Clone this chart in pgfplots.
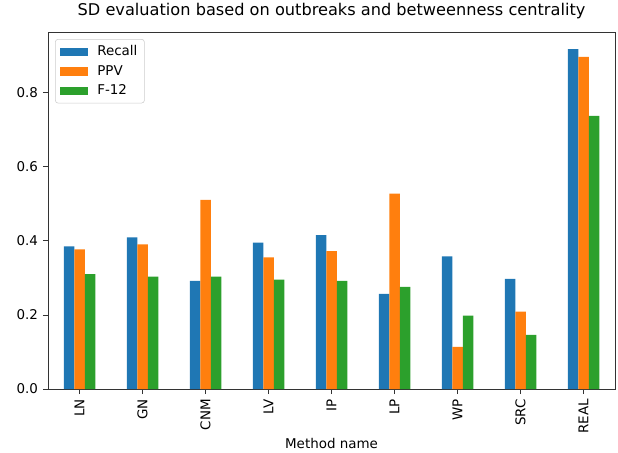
\documentclass[border=0pt]{standalone}
\usepackage{pgfplots}
\pgfplotsset{compat=1.18}
\usepackage{fontspec}
\setmainfont{DejaVu Sans}
\definecolor{c1}{HTML}{1F77B4}
\definecolor{c2}{HTML}{FF7F0E}
\definecolor{c3}{HTML}{2CA02C}
\begin{document}
\begin{tikzpicture}
\begin{axis}[
  width=405pt, height=255pt, scale only axis,
  xmin=-0.5, xmax=8.5, ymin=0, ymax=0.963,
  xtick={0,1,2,3,4,5,6,7,8},
  xticklabels={LN,GN,CNM,LV,IP,LP,WP,SRC,REAL},
  xticklabel style={rotate=90, anchor=east, font=\fontsize{9.6}{11.5}\selectfont},
  ytick={0,0.2,0.4,0.6,0.8},
  yticklabel style={/pgf/number format/fixed, /pgf/number format/fixed zerofill, /pgf/number format/precision=1, font=\fontsize{9.6}{11.5}\selectfont},
  /pgf/number format/assume math mode=true,
  tick align=outside, xtick pos=bottom, ytick pos=left,
  major tick length=3.6pt,
  tick style={black!80, line width=0.6pt},
  axis line style={black!80, line width=0.6pt},
  title={SD evaluation based on outbreaks and betweenness centrality},
  title style={font=\fontsize{11.55}{14}\selectfont, at={(axis description cs:0.5,1)}, anchor=base, yshift=5.7pt},
  xlabel={Method name},
  xlabel style={font=\fontsize{9.6}{11.5}\selectfont, at={(axis description cs:0.5,0)}, anchor=base, yshift=-42.1pt},
  legend style={font=\fontsize{9.6}{11.5}\selectfont, draw=black!20, rounded corners=2pt, at={(axis description cs:0,1)}, anchor=north west, xshift=5pt, yshift=-5pt, row sep=1.3pt, inner xsep=3pt, inner ysep=2.5pt, /tikz/every odd column/.style={column sep=5pt}},
  legend cell align=left,
  legend image code/.code={\fill[#1, sharp corners] (0pt,-3pt) rectangle (20pt,3pt);},
]
\addplot[ybar, bar width=0.1667, bar shift=-0.1667, fill=c1, draw=none] coordinates {
(0,0.385) (1,0.409) (2,0.292) (3,0.395) (4,0.415) (5,0.257) (6,0.358) (7,0.297) (8,0.917)};
\addplot[ybar, bar width=0.1667, bar shift=0, fill=c2, draw=none] coordinates {
(0,0.377) (1,0.390) (2,0.510) (3,0.355) (4,0.372) (5,0.527) (6,0.114) (7,0.209) (8,0.896)};
\addplot[ybar, bar width=0.1667, bar shift=0.1667, fill=c3, draw=none] coordinates {
(0,0.310) (1,0.303) (2,0.303) (3,0.295) (4,0.292) (5,0.276) (6,0.198) (7,0.146) (8,0.737)};
\legend{Recall,PPV,F-12}
\end{axis}
\pgfresetboundingbox
\path (current axis.south west) ++(-34.3pt,-45pt) rectangle ++(441.4pt,322.9pt);
\end{tikzpicture}
\end{document}
